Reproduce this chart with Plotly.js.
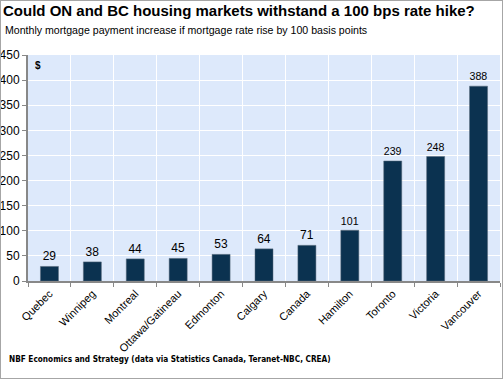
<!DOCTYPE html>
<html><head><meta charset="utf-8">
<script src="https://cdn.plot.ly/plotly-3.0.1.min.js"></script>
<style>html,body{margin:0;padding:0;background:#fff}#c{width:501px;height:377px;border:1px solid #a6a6a6}</style>
</head><body><div id="c"></div>
<script>
const cities = ["Quebec","Winnipeg","Montreal","Ottawa/Gatineau","Edmonton","Calgary","Canada","Hamilton","Toronto","Victoria","Vancouver"];
const increase = [29,38,44,45,53,64,71,101,239,248,388];
const yTicks = [0,50,100,150,200,250,300,350,400,450];

const trace = {
  type:"bar", x:cities, y:increase,
  marker:{color:"#0b3250", line:{color:"#5a6a7a", width:0.5}},
  text:increase.map(String), textposition:"outside", cliponaxis:false,
  textfont:{family:"Liberation Sans, Arial", size:12, color:"#000"},
  hoverinfo:"none"
};
const layout = {
  width:501, height:377,
  margin:{l:27, r:2, t:54, b:97},
  paper_bgcolor:"#fff", plot_bgcolor:"#dde9fb",
  bargap:0.58, showlegend:false,
  font:{family:"Liberation Sans, Arial", size:11, color:"#000"},
  title:{text:"<b>Could ON and BC housing markets withstand a 100 bps rate hike?</b>", x:0.004, xanchor:"left", y:0.975, yanchor:"middle", font:{size:15, color:"#000"}},
  xaxis:{type:"category", tickangle:-45, tickson:"boundaries", ticks:"outside", ticklen:4, tickcolor:"#888",
    showgrid:true, gridcolor:"#fff", gridwidth:1, showline:true, linecolor:"#888", linewidth:2,
    tickfont:{size:11}, automargin:false},
  yaxis:{range:[0,450], tickvals:yTicks, ticks:"outside", ticklen:4, tickcolor:"#888",
    showgrid:true, gridcolor:"#fff", gridwidth:1, showline:true, linecolor:"#888", linewidth:2,
    tickfont:{size:12}, zeroline:false, automargin:false},
  annotations:[
    {text:"Monthly mortgage payment increase if mortgage rate rise by 100 basis points", xref:"paper", yref:"paper", x:-0.052, y:1.112, xanchor:"left", yanchor:"middle", showarrow:false, font:{size:10.6}},
    {text:"<b>$</b>", xref:"paper", yref:"paper", x:0.01, y:0.985, xanchor:"left", yanchor:"top", showarrow:false, font:{size:10}},
    {text:"<b>NBF Economics and Strategy (data via Statistics Canada, Teranet-NBC, CREA)</b>", xref:"paper", yref:"paper", x:-0.045, y:-0.345, xanchor:"left", yanchor:"middle", showarrow:false, font:{family:"DejaVu Sans Condensed, Liberation Sans Narrow, Liberation Sans", size:8.2}}
  ]
};
Plotly.newPlot("c",[trace],layout,{displayModeBar:false,staticPlot:true});
</script></body></html>
